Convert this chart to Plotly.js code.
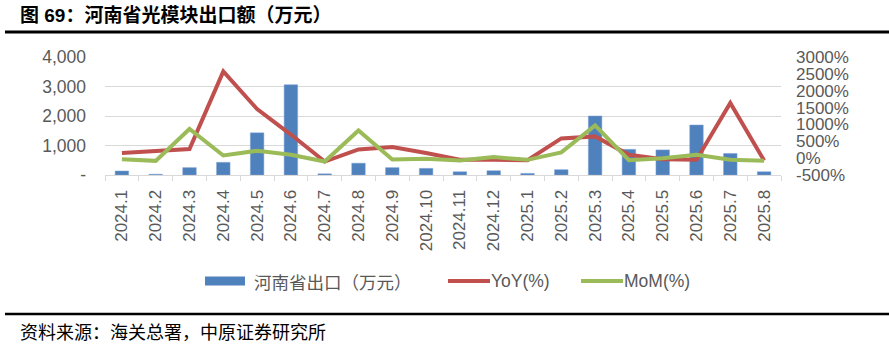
<!DOCTYPE html>
<html>
<head>
<meta charset="utf-8">
<script src="https://cdn.plot.ly/plotly-3.0.1.min.js"></script>
<style>html,body{margin:0;padding:0;background:#fff;}#chart{width:889px;height:346px;}</style>
</head>
<body>
<div id="chart"></div>
<script>
// ---- data ----
const categories = ['2024.1','2024.2','2024.3','2024.4','2024.5','2024.6','2024.7','2024.8','2024.9','2024.10','2024.11','2024.12','2025.1','2025.2','2025.3','2025.4','2025.5','2025.6','2025.7','2025.8'];
const exportValues = [135, 25, 250, 430, 1430, 3060, 40, 400, 250, 225, 110, 145, 55, 180, 2000, 870, 850, 1695, 730, 110];
const yoyValues = [150, 200, 270, 2570, 1455, 700, -100, 260, 330, 150, -50, -50, -60, 585, 645, 100, -30, -50, 1635, -70];
const momValues = [-30, -80, 865, 80, 220, 100, -100, 820, -40, -20, -70, 30, -50, 170, 970, -60, 0, 100, -50, -80];
const seriesNames = ['河南省出口（万元）', 'YoY(%)', 'MoM(%)'];
const leftTickVals = [0, 1000, 2000, 3000, 4000];
const leftTickText = ['-', '1,000', '2,000', '3,000', '4,000'];
const rightTickVals = [-500, 0, 500, 1000, 1500, 2000, 2500, 3000];
const rightTickText = ['-500%', '0%', '500%', '1000%', '1500%', '2000%', '2500%', '3000%'];
const titleText = '图 69：河南省光模块出口额（万元）';
const sourceText = '资料来源：海关总署，中原证券研究所';

// ---- style ----
const W = 889, H = 346;
const M = {l: 105, r: 108, t: 57, b: 171};
const PW = W - M.l - M.r, PH = H - M.t - M.b;
const BLUE = '#4F81BD', RED = '#C0504D', GREEN = '#9BBB59', GRAY = '#595959', GRID = '#D9D9D9';
const NUMFONT = 'Liberation Sans, Arial, sans-serif';
const CJKFONT = 'Noto Sans CJK SC, sans-serif';
const px2x = x => (x - M.l) / PW;
const px2y = y => (H - M.b - y) / PH;

const traces = [
  {type: 'bar', x: categories, y: exportValues, name: seriesNames[0], marker: {color: BLUE, line: {color: '#7FA3D4', width: 0.5}}, yaxis: 'y', showlegend: false},
  {type: 'scatter', mode: 'lines', x: categories, y: yoyValues, name: seriesNames[1], line: {color: RED, width: 4}, yaxis: 'y2', showlegend: false},
  {type: 'scatter', mode: 'lines', x: categories, y: momValues, name: seriesNames[2], line: {color: GREEN, width: 4}, yaxis: 'y2', showlegend: false}
];

const legY = 281;
const layout = {
  width: W, height: H,
  margin: M,
  paper_bgcolor: '#fff', plot_bgcolor: '#fff',
  bargap: 0.6,
  showlegend: false,
  title: {text: '<b>' + titleText + '</b>', xref: 'container', yref: 'container', x: 20 / W, xanchor: 'left', y: 1 - 15.5 / H, yanchor: 'middle', font: {family: 'Liberation Sans, Noto Sans CJK SC, sans-serif', size: 19, color: '#000'}},
  xaxis: {type: 'category', tickson: 'boundaries', ticks: 'outside', ticklen: 5, tickcolor: GRID, showline: true, linecolor: GRID, linewidth: 1, showgrid: false, tickangle: -90, tickfont: {family: NUMFONT, size: 17, color: GRAY}, ticklabelstandoff: 7, automargin: false},
  yaxis: {range: [0, 4000], tickvals: leftTickVals, ticktext: leftTickText, showgrid: true, gridcolor: GRID, gridwidth: 1, zeroline: false, showline: false, ticks: '', tickfont: {family: NUMFONT, size: 17.5, color: GRAY}, ticklabelstandoff: 18, automargin: false},
  yaxis2: {range: [-500, 3000], overlaying: 'y', side: 'right', tickvals: rightTickVals, ticktext: rightTickText, showgrid: false, zeroline: false, showline: false, ticks: '', tickfont: {family: NUMFONT, size: 17, color: GRAY}, ticklabelstandoff: 14, automargin: false},
  shapes: [
    {type: 'line', xref: 'paper', yref: 'paper', x0: px2x(5), x1: px2x(889), y0: px2y(32), y1: px2y(32), line: {color: '#000', width: 3}},
    {type: 'line', xref: 'paper', yref: 'paper', x0: px2x(5), x1: px2x(889), y0: px2y(314), y1: px2y(314), line: {color: '#000', width: 2.5}},
    {type: 'rect', xref: 'paper', yref: 'paper', x0: px2x(205), x1: px2x(245), y0: px2y(285.5), y1: px2y(276.5), fillcolor: BLUE, line: {width: 0}},
    {type: 'line', xref: 'paper', yref: 'paper', x0: px2x(448), x1: px2x(490), y0: px2y(legY), y1: px2y(legY), line: {color: RED, width: 4}},
    {type: 'line', xref: 'paper', yref: 'paper', x0: px2x(581), x1: px2x(623), y0: px2y(legY), y1: px2y(legY), line: {color: GREEN, width: 4}}
  ],
  annotations: [
    {xref: 'paper', yref: 'paper', x: px2x(252), y: px2y(legY), xanchor: 'left', yanchor: 'middle', showarrow: false, text: seriesNames[0], font: {family: CJKFONT, size: 17.5, color: GRAY}},
    {xref: 'paper', yref: 'paper', x: px2x(489), y: px2y(legY), xanchor: 'left', yanchor: 'middle', showarrow: false, text: seriesNames[1], font: {family: NUMFONT, size: 17.5, color: GRAY}},
    {xref: 'paper', yref: 'paper', x: px2x(622), y: px2y(legY), xanchor: 'left', yanchor: 'middle', showarrow: false, text: seriesNames[2], font: {family: NUMFONT, size: 17.5, color: GRAY}},
    {xref: 'paper', yref: 'paper', x: px2x(18), y: px2y(331), xanchor: 'left', yanchor: 'middle', showarrow: false, text: sourceText, font: {family: CJKFONT, size: 18, color: '#000'}}
  ]
};

Plotly.newPlot('chart', traces, layout, {staticPlot: true, displayModeBar: false});
</script>
</body>
</html>
